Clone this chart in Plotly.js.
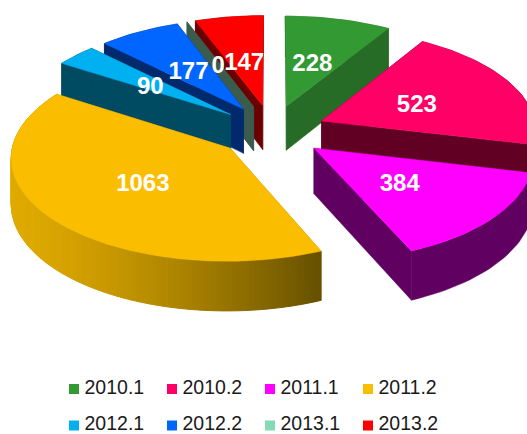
<!DOCTYPE html>
<html><head><meta charset="utf-8">
<script src="https://cdn.plot.ly/plotly-3.0.1.min.js"></script>
<style>html,body{margin:0;padding:0;background:#fff;overflow:hidden}#c{width:527px;height:434px}</style>
</head><body><div id="c"></div>
<script>
const categories = ['2010.1','2010.2','2011.1','2011.2','2012.1','2012.2','2013.1','2013.2'];
const values = [228,523,384,1063,90,177,0,147];
const topColors = ['#339933','#FF0066','#FF00FF','#FBBD00','#00B0F0','#0066FF','#85D9B5','#FF0000'];
const wallColors = ['#266B26','#620024','#600060','#B98C00','#004B62','#002A6C','#3B5C4C','#6A0000'];
const drawOrder = [0,1,2,7,6,5,4,3];
const legendX = [74,172,270,368];
const legendY = [389,425.5];

// projection of the tilted disc
const cx=272, cy=131, tilt=0.488, persp=0.000387, Rx=215, Ry=207, explode=54, depth=45;
const total = values.reduce((a,b)=>a+b,0);
const rad = d=>d*Math.PI/180;
function project(X,Y){const s=1/(1+persp*Y);return {x:cx+X*s,y:cy-Y*tilt*s,h:depth*s};}

const traces=[];
function poly(pts,color,lw){
  traces.push({type:'scatter',mode:'lines',x:pts.map(p=>p.x).concat(pts[0].x),y:pts.map(p=>p.y).concat(pts[0].y),
    fill:'toself',fillcolor:color,line:{color:color,width:lw||0.5},hoverinfo:'skip',showlegend:false});
}
const down=p=>({x:p.x,y:p.y+p.h});
let cum=0; const slices=values.map(v=>{const a0=cum;cum+=v/total*360;return {a0,a1:cum};});

function mix(t){const a=[224,170,0],b=[102,80,0];
  const c=a.map((u,i)=>Math.round(u+(b[i]-u)*t));return `rgb(${c[0]},${c[1]},${c[2]})`;}

drawOrder.forEach(i=>{
  const {a0,a1}=slices[i], m=rad((a0+a1)/2);
  const ex=explode*Math.sin(m), ey=explode*Math.cos(m);
  const apex=project(ex,ey);
  const arc=[]; const n=Math.max(1,Math.ceil((a1-a0)/(i===3?0.75:2)));
  for(let k=0;k<=n;k++){const t=rad(a0+(a1-a0)*k/n);arc.push(project(ex+Rx*Math.sin(t),ey+Ry*Math.cos(t)));}
  const first=arc[0], last=arc[arc.length-1];
  poly([apex,first,down(first),down(apex)],wallColors[i]);
  poly([apex,last,down(last),down(apex)],wallColors[i]);
  if(i===3){
    for(let k=0;k<arc.length-1;k++){
      const p=arc[k],q=arc[k+1],t=Math.pow(Math.max(0,Math.min(1,(p.x-10)/312)),1.4);
      poly([p,q,down(q),down(p)],mix(t),1);
    }
  } else if(a1>a0){
    poly(arc.concat(arc.slice().reverse().map(down)),wallColors[i]);
  }
  if(a1>a0) poly([apex].concat(arc),topColors[i]);
});

// data labels at half radius of each slice
const lp=slices.map((s)=>{const m=rad((s.a0+s.a1)/2);
  const p=project((explode+Rx*0.5)*Math.sin(m),(explode+Ry*0.49)*Math.cos(m));
  return {x:p.x-1,y:p.y+3};});
traces.push({type:'scatter',mode:'text',x:lp.map(p=>p.x),y:lp.map(p=>p.y),text:values.map(String),
  textposition:'middle center',textfont:{family:'"Liberation Sans",Arial,sans-serif',size:24,color:'#FFFFFF',weight:700},
  hoverinfo:'skip',showlegend:false,cliponaxis:false});

// legend
categories.forEach((c,i)=>{
  const lx=legendX[i%4], ly=legendY[Math.floor(i/4)];
  traces.push({type:'scatter',mode:'markers',x:[lx],y:[ly],
    marker:{symbol:'square',size:10,color:topColors[i]},hoverinfo:'skip',showlegend:false});
  traces.push({type:'scatter',mode:'text',x:[lx+10.5],y:[ly],text:[c],textposition:'middle right',
    textfont:{family:'"Liberation Sans",Arial,sans-serif',size:19.5,color:'#1A1A1A'},
    hoverinfo:'skip',showlegend:false,cliponaxis:false});
});

Plotly.newPlot('c',traces,{
  width:527,height:434,margin:{l:0,r:0,t:0,b:0},paper_bgcolor:'#fff',plot_bgcolor:'#fff',showlegend:false,
  xaxis:{range:[0,527],visible:false,fixedrange:true},
  yaxis:{range:[434,0],visible:false,fixedrange:true}
},{staticPlot:true,displayModeBar:false});
</script></body></html>
